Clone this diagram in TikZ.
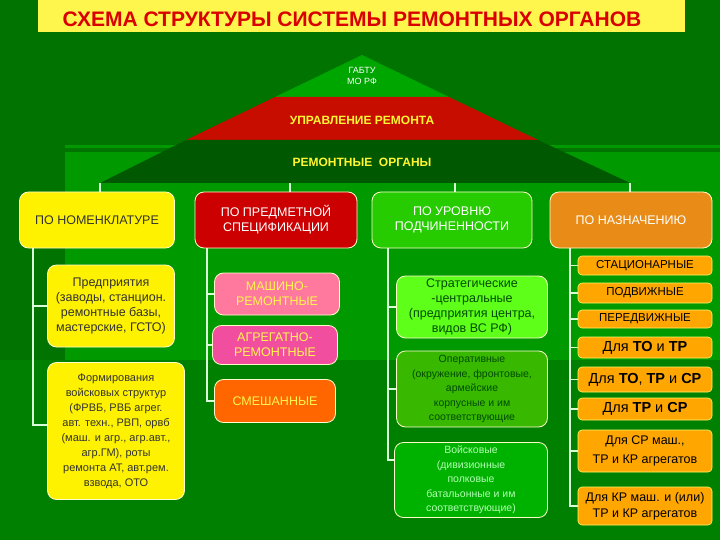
\documentclass[tikz,border=0pt]{standalone}
\usepackage{fontspec}
\setmainfont{Liberation Sans}
\begin{document}
\begin{tikzpicture}[x=1pt,y=-1pt,
  bx/.style={rounded corners=9pt,draw=white!80!yellow,line width=0.8pt,align=center,inner sep=1pt,font=\fontsize{12.5}{15}\selectfont},
  ob/.style={rounded corners=4pt,draw=yellow!60,fill=orange!70!yellow,line width=0.6pt,align=center,inner sep=1pt,minimum width=134pt,font=\fontsize{11.5}{13}\selectfont},
  ln/.style={draw=white!85!green,line width=1.5pt}]
\fill[green!45!black] (0,0) rectangle (720,540);
\fill[green!60!black] (65,145) rectangle (720,540);
\fill[green!45!black] (65,148) rectangle (720,152);
\fill[green!50!black] (0,360) rectangle (720,540);
\fill[yellow!70!white] (38,0) rectangle (685,32);
\node[font=\bfseries\fontsize{21}{24}\selectfont,text=red!85!black] (title) at (352,19) {СХЕМА СТРУКТУРЫ СИСТЕМЫ РЕМОНТНЫХ ОРГАНОВ};
% pyramid
\fill[green!65!black] (362,55) -- (449,97) -- (275,97) -- cycle;
\fill[red!75!black!90!orange] (275,97) -- (449,97) -- (538,140) -- (186,140) -- cycle;
\fill[green!35!black] (186,140) -- (538,140) -- (630,183) -- (100,183) -- cycle;
\node[font=\fontsize{9}{11}\selectfont,text=white,align=center] (gabtu) at (362,76) {ГАБТУ\\МО РФ};
\node[font=\bfseries\fontsize{12}{14}\selectfont,text=yellow!80!white] (upr) at (362,120) {УПРАВЛЕНИЕ РЕМОНТА};
\node[font=\bfseries\fontsize{12}{14}\selectfont,text=yellow!80!white] (org) at (362,162) {РЕМОНТНЫЕ \ ОРГАНЫ};
\coordinate (p1) at (100,183); \coordinate (p2) at (290,183); \coordinate (p3) at (455,183); \coordinate (p4) at (630,183);
% top boxes
\node[bx,fill=yellow,minimum width=155pt,minimum height=56pt,text=black!80] (b1) at (97,220) {ПО НОМЕНКЛАТУРЕ};
\node[bx,fill=red!80!black,minimum width=162pt,minimum height=56pt,text=white] (b2) at (276,220) {ПО ПРЕДМЕТНОЙ\\СПЕЦИФИКАЦИИ};
\node[bx,fill=green!75!lime!80!black,minimum width=160pt,minimum height=56pt,text=white] (b3) at (452,220) {ПО УРОВНЮ\\ПОДЧИНЕННОСТИ};
\node[bx,fill=orange!60!brown!90!yellow,minimum width=162pt,minimum height=56pt,text=white] (b4) at (631,220) {ПО НАЗНАЧЕНИЮ};
\draw[ln] (p1) -- (p1|-b1.north); \draw[ln] (p2) -- (p2|-b2.north);
\draw[ln] (p3) -- (p3|-b3.north); \draw[ln] (p4) -- (p4|-b4.north);
% column 1
\node[bx,fill=yellow,minimum width=127pt,minimum height=82pt,text=black!80] (n1) at (111,306) {Предприятия\\(заводы, станцион.\\ремонтные базы,\\мастерские, ГСТО)};
\node[bx,fill=yellow,minimum width=137pt,minimum height=137pt,text=black!80,font=\fontsize{11}{15}\selectfont] (n2) at (116,431) {Формирования\\войсковых структур\\(ФРВБ, РВБ агрег.\\авт. техн., РВП, орвб\\(маш. и агр., агр.авт.,\\агр.ГМ), роты\\ремонта АТ, авт.рем.\\взвода, ОТО};
\coordinate (c1) at (33,248);
\draw[ln] (c1) |- (n1.west); \draw[ln] (c1) |- (n2.west|-0,425);
% column 2
\node[bx,fill=red!45!magenta!30!pink!90!red,minimum width=125pt,minimum height=42pt,text=yellow!70!white] (m1) at (277,294) {МАШИНО-\\РЕМОНТНЫЕ};
\node[bx,fill=magenta!60!pink,minimum width=125pt,minimum height=39pt,text=yellow!70!white] (m2) at (275,345) {АГРЕГАТНО-\\РЕМОНТНЫЕ};
\node[bx,fill=orange!80!red,minimum width=121pt,minimum height=43pt,text=yellow!70!white] (m3) at (275,401) {СМЕШАННЫЕ};
\coordinate (c2) at (207,248);
\draw[ln] (c2) |- (m1.west); \draw[ln] (c2) |- (m2.west); \draw[ln] (c2) |- (m3.west);
% column 3
\node[bx,fill=green!60!lime!90!white,minimum width=151pt,minimum height=62pt,text=black!70!green,font=\fontsize{12.5}{15}\selectfont] (s1) at (472,307) {Стратегические\\-центральные\\(предприятия центра,\\видов ВС РФ)};
\node[bx,fill=green!60!black!70!lime,minimum width=151pt,minimum height=76pt,text=black!70!green,font=\fontsize{10.5}{14.5}\selectfont] (s2) at (472,389) {Оперативные\\(окружение, фронтовые,\\армейские\\корпусные и им\\соответствующие};
\node[bx,fill=green!70!black,minimum width=153pt,minimum height=75pt,text=green!30!white,font=\fontsize{10.5}{14.5}\selectfont] (s3) at (471,480) {Войсковые\\(дивизионные\\полковые\\батальонные и им\\соответствующие)};
\coordinate (c3) at (388,248);
\draw[ln] (c3) |- (s1.west); \draw[ln] (c3) |- (s2.west); \draw[ln] (c3) |- (s3.west|-0,460);
% column 4
\node[ob,minimum height=19pt] (o1) at (645,265.5) {СТАЦИОНАРНЫЕ};
\node[ob,minimum height=20pt] (o2) at (645,293) {ПОДВИЖНЫЕ};
\node[ob,minimum height=18pt] (o3) at (645,319) {ПЕРЕДВИЖНЫЕ};
\node[ob,minimum height=21pt,font=\fontsize{14.5}{16}\selectfont] (o4) at (645,347.5) {Для \textbf{ТО} и \textbf{ТР}};
\node[ob,minimum height=25pt,font=\fontsize{14.5}{16}\selectfont] (o5) at (645,379.5) {Для \textbf{ТО}, \textbf{ТР} и \textbf{СР}};
\node[ob,minimum height=22pt,font=\fontsize{14.5}{16}\selectfont] (o6) at (645,409) {Для \textbf{ТР} и \textbf{СР}};
\node[ob,minimum height=42pt,font=\fontsize{12.5}{19}\selectfont] (o7) at (645,451) {Для СР маш.,\\ТР и КР агрегатов};
\node[ob,minimum height=38pt,font=\fontsize{12.5}{16}\selectfont] (o8) at (645,506) {Для КР маш. и (или)\\ТР и КР агрегатов};
\coordinate (c4) at (570,248);
\foreach \o in {o1,o2,o3,o4,o5,o6,o7,o8} \draw[ln] (c4) |- (\o.west);
\end{tikzpicture}
\end{document}
